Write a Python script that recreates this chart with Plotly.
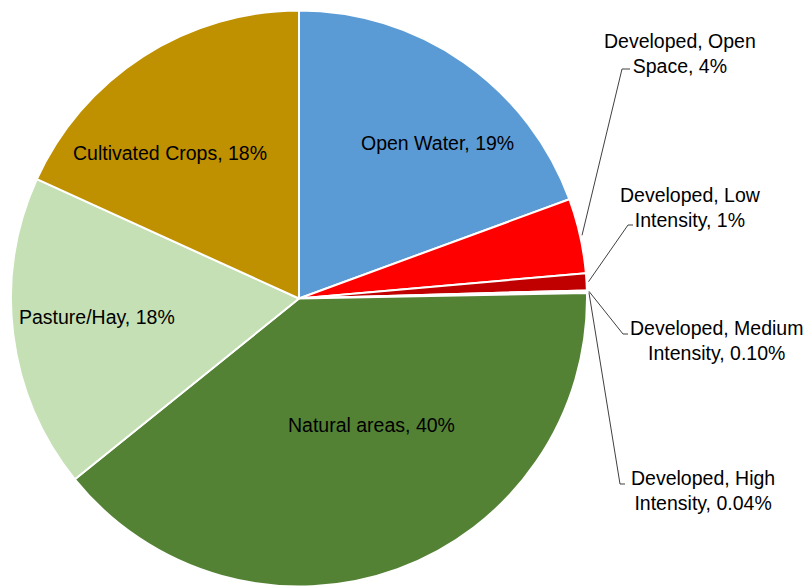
import math
import plotly.graph_objects as go

categories = ["Open Water", "Developed, Open Space", "Developed, Low Intensity",
              "Developed, Medium Intensity", "Developed, High Intensity",
              "Natural areas", "Pasture/Hay", "Cultivated Crops"]
values = [19.4, 4.2, 0.95, 0.10, 0.04, 39.5, 17.6, 18.2]
pct_labels = ["19%", "4%", "1%", "0.10%", "0.04%", "40%", "18%", "18%"]
colors = ["#5B9BD5", "#FF0000", "#C00000", "#8B0000", "#600000",
          "#548235", "#C5E0B4", "#BF9000"]

W, H = 812, 588
OFF = 8  # page body margin offset
CX, CY, R = 299, 298.5, 288

def px(x):
    return (x - OFF) / W

def py(y):
    return 1 - (y - OFF) / H

fig = go.Figure(go.Pie(
    labels=categories, values=values, sort=False, direction="clockwise",
    rotation=0, textinfo="none", hoverinfo="label+percent",
    marker=dict(colors=colors, line=dict(color="white", width=2)),
    domain=dict(x=[px(CX - R), px(CX + R)], y=[py(CY + R), py(CY - R)]),
    showlegend=False,
))

font = dict(family="Liberation Sans, Arial, sans-serif", size=19.5, color="#000000")

# inside labels (index, x, y)
inside = [(0, 438, 143), (7, 170, 153), (6, 97, 317), (5, 371, 425)]
annotations = []
for i, x, y in inside:
    annotations.append(dict(text=f"{categories[i]}, {pct_labels[i]}", x=px(x), y=py(y),
                            xref="paper", yref="paper", showarrow=False, font=font,
                            xanchor="center", yanchor="middle"))

# outside labels: index, two-line text, label center, elbow point, elbow end
outside = [
    (1, "Developed, Open<br>Space, 4%", 680, 53, 622, 69, 630),
    (2, "Developed, Low<br>Intensity, 1%", 690, 208, 628, 225, 633),
    (3, "Developed, Medium<br>Intensity, 0.10%", 716, 340, 623, 334, 628),
    (4, "Developed, High<br>Intensity, 0.04%", 703, 490, 620, 484, 625),
]
total = sum(values)
cum = [sum(values[:k]) for k in range(len(values))]
shapes = []
for i, txt, lx, ly, ex, ey, ex2 in outside:
    mid = (cum[i] + values[i] / 2) / total * 2 * math.pi
    sx = CX + (R + 2) * math.sin(mid)
    sy = CY - (R + 2) * math.cos(mid)
    shapes.append(dict(type="line", xref="paper", yref="paper",
                       x0=px(sx), y0=py(sy), x1=px(ex), y1=py(ey),
                       line=dict(color="#404040", width=1)))
    shapes.append(dict(type="line", xref="paper", yref="paper",
                       x0=px(ex), y0=py(ey), x1=px(ex2), y1=py(ey),
                       line=dict(color="#404040", width=1)))
    annotations.append(dict(text=txt, x=px(lx), y=py(ly), xref="paper", yref="paper",
                            showarrow=False, font=font, align="center",
                            xanchor="center", yanchor="middle"))

fig.update_layout(width=W, height=H, margin=dict(l=0, r=0, t=0, b=0),
                  paper_bgcolor="white", plot_bgcolor="white",
                  annotations=annotations, shapes=shapes)

fig.write_html("out.html")
